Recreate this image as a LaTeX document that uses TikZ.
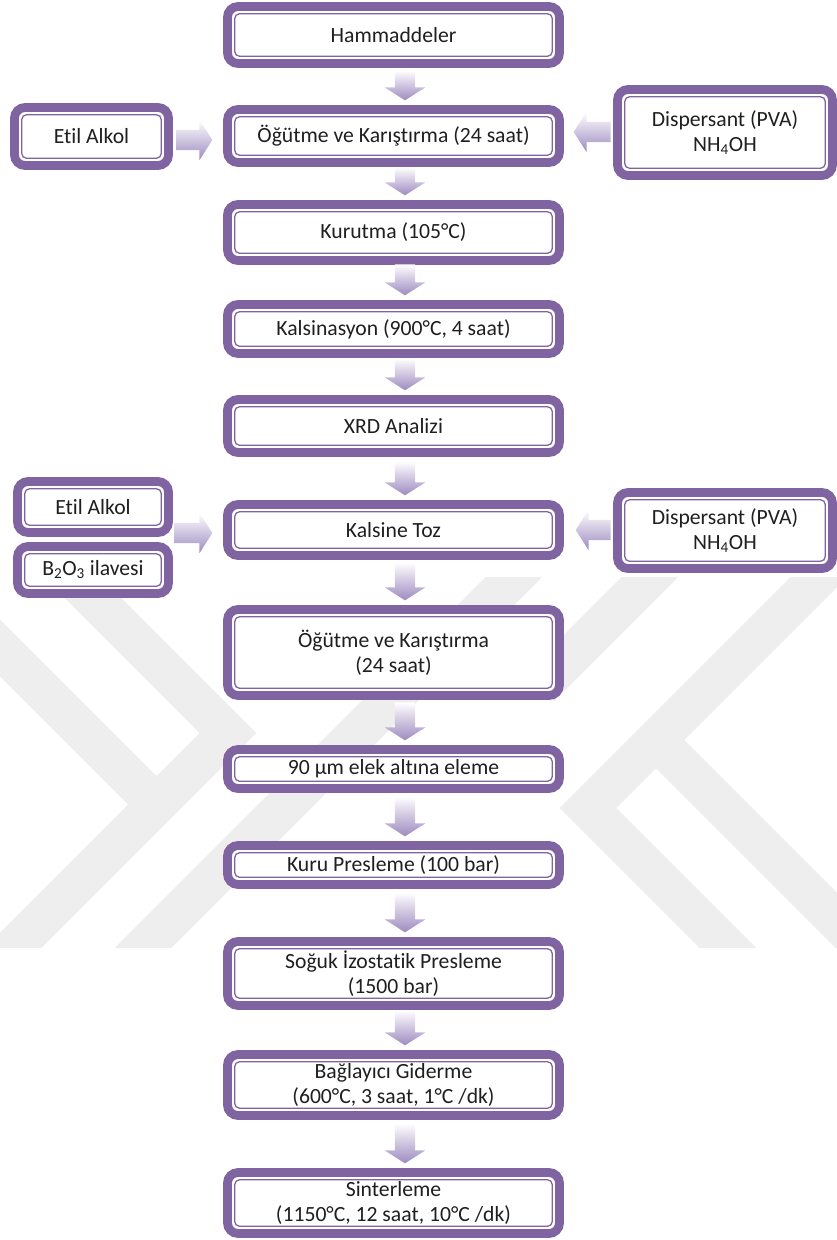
\documentclass[tikz,border=0pt]{standalone}
\usepackage{fontspec}
\setmainfont{Carlito}[Ligatures=NoCommon]
\usetikzlibrary{shapes.arrows,calc}
\definecolor{boxpurple}{HTML}{8064A2}
\definecolor{arrowpurple}{HTML}{9D8AC0}
\definecolor{markgray}{HTML}{EEEEEE}
\definecolor{textgray}{HTML}{1F1F1F}
\tikzset{
  stepbox/.style={
    draw=boxpurple, line width=7.5pt, rounded corners=9pt, fill=white,
    inner sep=0pt, align=center, text=textgray,
    font=\fontsize{18.5pt}{21.5pt}\selectfont,
    path picture={
      \draw[boxpurple, line width=1.1pt, rounded corners=4pt]
      ([shift={(6.2pt,6.2pt)}]path picture bounding box.south west) rectangle
      ([shift={(-6.2pt,-6.2pt)}]path picture bounding box.north east);
    }
  },
  mainbox/.style={stepbox, minimum width=9.96cm},
  flowarrow/.style={
    single arrow, draw=none, inner sep=0.3cm, minimum width=1.2cm,
    single arrow head extend=0.3cm, single arrow tip angle=115,
    top color=white, bottom color=arrowpurple
  },
  downarrow/.style={flowarrow, shape border rotate=270, anchor=tip},
  rightarrow/.style={flowarrow, shape border rotate=0, anchor=tip},
  leftarrow/.style={flowarrow, shape border rotate=180, anchor=tip},
  markband/.style={draw=markgray, line width=1.2cm, line join=miter}
}

\begin{document}
\begin{tikzpicture}
\useasboundingbox (0,0) rectangle (25.11,-37.2);

% ------------------------------------------------
% background mark
% ------------------------------------------------
\begin{scope}
  \clip (0,-17.31) rectangle (25.11,-28.41);
  \draw[markband] (0.66,-15.81) -- (6.84,-21.99) -- (-0.96,-29.79);
  \draw[markband] (-0.6,-18.84) -- (4.8,-24.24);
  \draw[markband] (16.62,-16.11) -- (3.18,-29.55);
  \draw[markband] (25.77,-16.11) -- (17.64,-24.24) -- (22.95,-29.55);
  \draw[markband] (19.5,-22.02) -- (27.0,-29.52);
  \draw[markband] (20.7,-16.11) -- (16.2,-20.61);
\end{scope}

% ------------------------------------------------
% main column
% ------------------------------------------------
\node[mainbox, minimum height=1.71cm] (hamm)   at (11.805,-1.05)   {Hammaddeler};
\node[mainbox, minimum height=1.59cm] (ogut1)  at (11.805,-4.08)   {Öğütme ve Karıştırma (24 saat)};
\node[mainbox, minimum height=1.68cm] (kurut)  at (11.805,-6.975)  {Kurutma (105°C)};
\node[mainbox, minimum height=1.47cm] (kalsin) at (11.805,-9.87)   {Kalsinasyon (900°C, 4 saat)};
\node[mainbox, minimum height=1.59cm] (xrd)    at (11.805,-12.78)  {XRD Analizi};
\node[mainbox, minimum height=1.53cm] (ktoz)   at (11.805,-15.9)   {Kalsine Toz};
\node[mainbox, minimum height=2.58cm] (ogut2)  at (11.805,-19.575) {Öğütme ve Karıştırma\\(24 saat)};
\node[mainbox, minimum height=1.17cm] (elek)   at (11.805,-23.07)  {90 µm elek altına eleme};
\node[mainbox, minimum height=1.17cm] (kuru)   at (11.805,-25.95)  {Kuru Presleme (100 bar)};
\node[mainbox, minimum height=1.92cm] (soguk)  at (11.805,-29.205) {Soğuk İzostatik Presleme\\(1500 bar)};
\node[mainbox, minimum height=1.83cm] (bagla)  at (11.805,-32.55)  {Bağlayıcı Giderme\\(600°C, 3 saat, 1°C /dk)};
\node[mainbox, minimum height=1.83cm] (sinter) at (11.805,-36.09)  {Sinterleme\\(1150°C, 12 saat, 10°C /dk)};

% ------------------------------------------------
% side inputs
% ------------------------------------------------
\node[stepbox, minimum width=4.62cm, minimum height=1.74cm] (etilA) at (2.745,-4.095) {Etil Alkol};
\node[stepbox, minimum width=6.45cm, minimum height=2.58cm] (dispA) at (21.75,-3.975) {Dispersant (PVA)\\NH\textsubscript{4}OH};
\node[stepbox, minimum width=4.53cm, minimum height=1.53cm] (etilB) at (2.79,-15.21) {Etil Alkol};
\node[stepbox, minimum width=4.53cm, minimum height=1.41cm] (boron) at (2.79,-17.1) {B\textsubscript{2}O\textsubscript{3} ilavesi};
\node[stepbox, minimum width=6.45cm, minimum height=2.28cm] (dispB) at (21.75,-15.915) {Dispersant (PVA)\\NH\textsubscript{4}OH};

% ------------------------------------------------
% block arrows
% ------------------------------------------------
\foreach \a/\b/\len in {hamm/ogut1/0.9, ogut1/kurut/0.84, kurut/kalsin/0.93,
    kalsin/xrd/0.96, xrd/ktoz/1.02, ktoz/ogut2/1.14, ogut2/elek/1.14,
    elek/kuru/1.2, kuru/soguk/1.2, soguk/bagla/1.05, bagla/sinter/1.2}
  \node[downarrow, minimum height=\len cm] at ($(\b.north)+(0.345,0.135)$) {};

\node[rightarrow, minimum height=1.08cm] at ($(ogut1.west)+(-0.315,-0.12)$) {};
\node[leftarrow,  minimum height=1.11cm] at ($(ogut1.east)+(0.285,0.12)$) {};
\node[rightarrow, minimum height=1.14cm] at ($(ktoz.west)+(-0.315,-0.09)$) {};
\node[leftarrow,  minimum height=1.05cm] at ($(ktoz.east)+(0.345,0)$) {};
\end{tikzpicture}
\end{document}
